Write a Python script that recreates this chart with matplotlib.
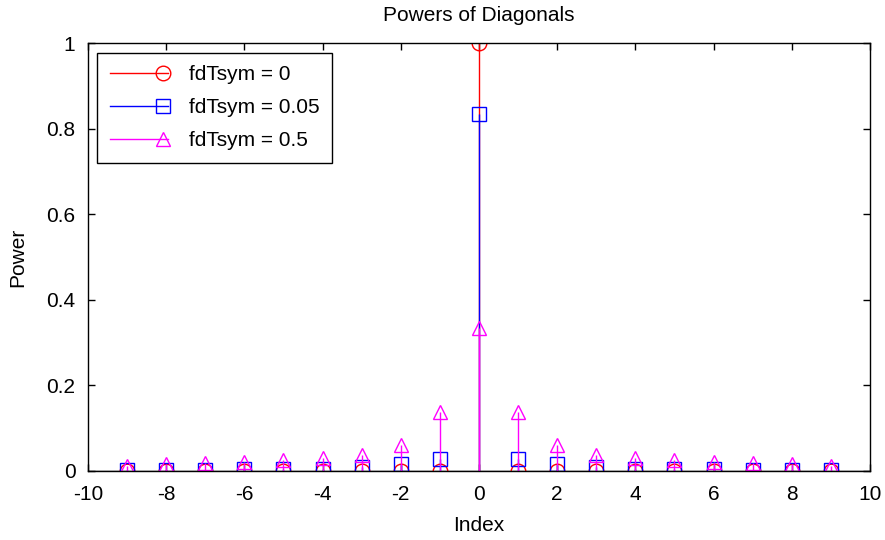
import matplotlib
matplotlib.use("Agg")
import matplotlib.pyplot as plt
from matplotlib.legend_handler import HandlerLine2D
from matplotlib.lines import Line2D
import numpy as np

plt.rcParams["font.family"] = ["Liberation Sans", "DejaVu Sans"]
plt.rcParams["font.size"] = 15
plt.rcParams["axes.unicode_minus"] = False

index = np.arange(-9, 10)

# diagonal powers, one series per normalised Doppler value
power_fd0 = [0, 0, 0, 0, 0, 0, 0, 0, 0, 1.0, 0, 0, 0, 0, 0, 0, 0, 0, 0]
power_fd005 = [0.002, 0.003, 0.003, 0.004, 0.005, 0.005, 0.010, 0.016, 0.028, 0.835,
               0.028, 0.016, 0.010, 0.005, 0.005, 0.004, 0.003, 0.003, 0.002]
power_fd05 = [0.012, 0.016, 0.018, 0.021, 0.026, 0.030, 0.037, 0.060, 0.138, 0.333,
              0.138, 0.060, 0.037, 0.030, 0.026, 0.021, 0.018, 0.016, 0.012]

series = [
    ("fdTsym = 0", power_fd0, "#ff0000", "o"),
    ("fdTsym = 0.05", power_fd005, "#0000ff", "s"),
    ("fdTsym = 0.5", power_fd05, "#ff00ff", "^"),
]
MS = 10.5


class _MarkerAtEnd(HandlerLine2D):
    """Legend entry: plain line with the marker sitting on its right end."""

    def create_artists(self, legend, orig_handle, xdescent, ydescent,
                       width, height, fontsize, trans):
        y = height / 2 - ydescent
        x0, x1 = -xdescent, -xdescent + width
        line = Line2D([x0, x1], [y, y])
        self.update_prop(line, orig_handle, legend)
        line.set_marker("")
        mark = Line2D([x1 - 0.35 * height], [y])
        self.update_prop(mark, orig_handle, legend)
        mark.set_linestyle("none")
        line.set_transform(trans)
        mark.set_transform(trans)
        return [line, mark]


fig = plt.figure(figsize=(8.85, 5.4), dpi=100)
ax = fig.add_axes([0.0994, 0.128, 0.8836, 0.792])

handles = []
for label, vals, color, marker in series:
    ax.vlines(index, 0, vals, colors=color, linewidth=1.0)
    ax.plot(index, vals, linestyle="none", marker=marker, markersize=MS,
            markerfacecolor="none", markeredgecolor=color, markeredgewidth=1.0)
    handles.append(Line2D([], [], color=color, linewidth=1.0, marker=marker,
                          markersize=MS, markerfacecolor="none",
                          markeredgecolor=color, markeredgewidth=1.0, label=label))

ax.axhline(0, color="black", linewidth=1.0, zorder=1)

ax.set_xlim(-10, 10)
ax.set_ylim(0, 1)
ax.set_xticks(np.arange(-10, 11, 2))
ax.set_yticks([0, 0.2, 0.4, 0.6, 0.8, 1.0])
ax.set_yticklabels(["0", "0.2", "0.4", "0.6", "0.8", "1"])
ax.tick_params(direction="in", top=True, right=True, length=5, width=1,
               labelsize=15)
ax.tick_params(axis="x", pad=10)
ax.tick_params(axis="y", pad=9)
for spine in ax.spines.values():
    spine.set_linewidth(1.0)

ax.set_title("Powers of Diagonals", fontsize=15, pad=16)
ax.set_xlabel("Index", fontsize=15, labelpad=9)
ax.set_ylabel("Power", fontsize=15, labelpad=14)

leg = ax.legend(handles=handles, loc="upper left",
                handler_map={Line2D: _MarkerAtEnd()}, fancybox=False,
                edgecolor="black", framealpha=1, handlelength=2.8,
                borderaxespad=0.45, labelspacing=0.68, fontsize=15,
                handletextpad=1.0, borderpad=0.6)
leg.get_frame().set_linewidth(1.0)

fig.savefig("out.png", dpi=100)
